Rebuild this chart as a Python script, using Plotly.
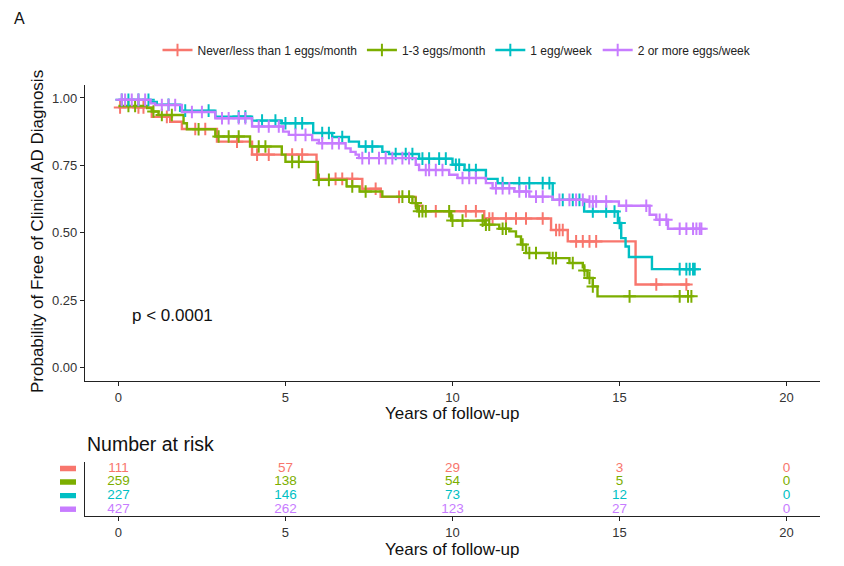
import numpy as np
import plotly.graph_objects as go

W, H = 844, 566

groups = ["Never/less than 1 eggs/month", "1-3 eggs/month", "1 egg/week", "2 or more eggs/week"]
colors = ["#F8766D", "#7CAE00", "#00BFC4", "#C77CFF"]

# Kaplan-Meier step data (time of drop, survival after drop) and last follow-up time
red_t = [0, 1.0, 1.55, 1.9, 2.95, 4.0, 5.93, 7.3, 7.85, 8.9, 9.1, 10.95, 12.95, 13.45, 15.48]
red_s = [0.965, 0.93, 0.912, 0.885, 0.838, 0.79, 0.70, 0.663, 0.633, 0.60, 0.58, 0.553, 0.51, 0.468, 0.308]
red_end = 17.1
red_cens = [0.05, 0.6, 0.75, 1.45, 2.3, 2.6, 3.55, 4.15, 4.5, 5.2, 5.5, 6.5, 6.7, 7.0, 7.7, 8.4, 9.5,
            10.4, 10.7, 11.1, 11.2, 11.6, 11.9, 12.2, 12.7, 13.1, 13.2, 13.3, 13.7, 13.9, 14.1, 14.3, 16.1, 17.0]

green_t = [0, 0.86, 1.0, 1.2, 1.95, 2.05, 2.9, 3.94, 4.89, 5.0, 5.97, 6.83, 7.22, 7.9, 8.8, 8.95, 9.96,
           10.96, 11.4, 11.7, 11.9, 12.05, 12.2, 12.9, 13.5, 13.9, 13.94, 14.04, 14.2, 14.34]
green_s = [0.97, 0.963, 0.95, 0.937, 0.906, 0.884, 0.857, 0.82, 0.79, 0.763, 0.696, 0.672, 0.653, 0.634,
           0.61, 0.58, 0.545, 0.53, 0.515, 0.505, 0.486, 0.456, 0.425, 0.406, 0.388, 0.372, 0.36, 0.332, 0.301, 0.264]
green_end = 17.15
green_cens = [0.3, 0.5, 1.05, 1.3, 1.6, 2.4, 3.0, 3.3, 3.6, 4.2, 4.4, 5.2, 5.4, 6.0, 6.3, 7.0, 7.4, 8.5, 8.7,
              8.9, 9.0, 9.1, 9.2, 9.9, 10.0, 10.3, 10.9, 11.0, 11.1, 11.5, 11.6, 12.1, 12.3, 12.5, 13.0, 13.1,
              13.6, 13.95, 14.1, 14.2, 15.3, 16.8, 17.05, 17.15]

cyan_t = [0, 0.96, 1.15, 1.85, 2.9, 4.0, 4.89, 5.83, 6.4, 6.9, 7.2, 7.9, 8.1, 9.0, 10.0, 10.36, 11.0,
          11.35, 13.0, 13.94, 14.95, 15.05, 15.18, 15.28, 15.97]
cyan_s = [0.993, 0.985, 0.975, 0.953, 0.931, 0.916, 0.906, 0.87, 0.855, 0.838, 0.82, 0.80, 0.792, 0.775,
          0.752, 0.733, 0.70, 0.684, 0.622, 0.579, 0.536, 0.48, 0.449, 0.41, 0.365]
cyan_end = 17.25
cyan_cens = [0.1, 0.3, 0.6, 0.9, 1.5, 2.0, 2.7, 3.6, 3.8, 4.3, 4.7, 5.0, 5.3, 5.5, 6.1, 6.3, 6.7, 7.4, 7.6,
             8.3, 8.6, 8.8, 9.1, 9.3, 9.6, 9.8, 10.1, 10.2, 10.5, 10.7, 11.5, 12.0, 12.3, 12.7, 12.9, 13.3,
             13.6, 13.8, 14.2, 14.6, 14.85, 15.0, 16.8, 17.0, 17.1, 17.2, 17.25]

purple_t = [0, 0.96, 1.1, 1.9, 2.9, 4.0, 4.93, 5.1, 5.8, 6.0, 6.8, 6.95, 7.1, 7.2, 8.9, 9.0, 9.9, 10.15,
            11.0, 11.2, 11.85, 12.3, 13.0, 14.0, 14.98, 15.9, 16.1, 16.45]
purple_s = [0.993, 0.98, 0.974, 0.948, 0.925, 0.894, 0.875, 0.863, 0.844, 0.832, 0.813, 0.80, 0.79, 0.777,
            0.752, 0.733, 0.715, 0.703, 0.684, 0.665, 0.653, 0.634, 0.622, 0.616, 0.60, 0.567, 0.548, 0.515]
purple_end = 17.45
purple_cens = [0.1, 0.2, 0.4, 0.6, 0.8, 1.3, 1.5, 1.7, 2.2, 2.5, 3.1, 3.3, 3.6, 3.8, 4.2, 4.5, 4.8, 5.3,
               5.6, 6.1, 6.4, 6.6, 7.3, 7.5, 7.8, 8.0, 8.2, 8.5, 8.7, 9.2, 9.3, 9.5, 9.7, 10.3, 10.5, 10.7,
               11.3, 11.5, 11.7, 12.0, 12.2, 12.5, 12.7, 13.2, 13.5, 13.7, 13.9, 14.1, 14.2, 14.3, 14.6,
               15.2, 15.8, 16.2, 16.4, 16.8, 17.0, 17.2, 17.3, 17.4, 17.45]

risk_times = [0, 5, 10, 15, 20]
risk_red = [111, 57, 29, 3, 0]
risk_green = [259, 138, 54, 5, 0]
risk_cyan = [227, 146, 73, 12, 0]
risk_purple = [427, 262, 123, 27, 0]

series = [
    (red_t, red_s, red_end, red_cens, risk_red),
    (green_t, green_s, green_end, green_cens, risk_green),
    (cyan_t, cyan_s, cyan_end, cyan_cens, risk_cyan),
    (purple_t, purple_s, purple_end, purple_cens, risk_purple),
]

FONT = "Liberation Sans, Arial, sans-serif"

def step_val(ts, ss, t):
    i = int(np.searchsorted(np.array(ts), t, side="right")) - 1
    return ss[max(i, 0)]

fig = go.Figure()
n = len(groups)
for k, (ts, ss, tend, cens, risk) in enumerate(series):
    col = colors[k]
    fig.add_trace(go.Scatter(
        x=list(ts) + [tend], y=list(ss) + [ss[-1]], mode="lines",
        line=dict(color=col, width=2.4, shape="hv"), showlegend=False, hoverinfo="skip",
        xaxis="x", yaxis="y"))
    fig.add_trace(go.Scatter(
        x=cens, y=[step_val(ts, ss, c) for c in cens], mode="markers",
        marker=dict(symbol="cross-thin", size=9, line=dict(color=col, width=2), color=col),
        showlegend=False, hoverinfo="skip", xaxis="x", yaxis="y"))
    # legend entry
    fig.add_trace(go.Scatter(
        x=[None], y=[None], mode="lines+markers", name=groups[k],
        line=dict(color=col, width=2.4),
        marker=dict(symbol="cross-thin", size=9, line=dict(color=col, width=2), color=col),
        xaxis="x", yaxis="y"))
    # risk table
    row = n - k
    fig.add_trace(go.Scatter(
        x=risk_times, y=[row] * len(risk_times), mode="text",
        text=[str(v) for v in risk], textfont=dict(color=col, size=13.5, family=FONT),
        textposition="middle center", showlegend=False, hoverinfo="skip",
        xaxis="x2", yaxis="y2"))

xdom = [85 / W, 820 / W]
axis_common = dict(showline=True, linecolor="#222", linewidth=1.3, ticks="outside", ticklen=4,
                   tickcolor="#222", tickwidth=1.1, showgrid=False, zeroline=False,
                   tickfont=dict(size=13, color="#333", family=FONT))

fig.update_layout(
    width=W, height=H, margin=dict(l=0, r=0, t=0, b=0),
    paper_bgcolor="white", plot_bgcolor="white",
    font=dict(family=FONT, color="#111"),
    xaxis=dict(domain=xdom, range=[-1, 21], tickvals=[0, 5, 10, 15, 20], anchor="y", **axis_common),
    yaxis=dict(domain=[1 - 381 / H, 1 - 84.5 / H], range=[-0.05, 1.05],
               tickvals=[0, 0.25, 0.5, 0.75, 1.0], ticktext=["0.00", "0.25", "0.50", "0.75", "1.00"],
               anchor="x", **axis_common),
    xaxis2=dict(domain=xdom, range=[-1, 21], tickvals=[0, 5, 10, 15, 20], anchor="y2", **axis_common),
    yaxis2=dict(domain=[1 - 516 / H, 1 - 461.7 / H], range=[0.5, 4.5], showticklabels=False,
                anchor="x2", showline=True, linecolor="#222", linewidth=1.3, ticks="",
                showgrid=False, zeroline=False),
    legend=dict(orientation="h", x=457 / W, y=1 - 50 / H, xanchor="center", yanchor="middle",
                font=dict(size=12, color="#222", family=FONT), itemwidth=30, tracegroupgap=0,
                bgcolor="rgba(0,0,0,0)"),
)

ann = [
    dict(text="A", x=12 / W, y=1 - 18 / H, xanchor="left", yanchor="middle", font=dict(size=16)),
    dict(text="Years of follow-up", x=(85 + 820) / 2 / W, y=1 - 413 / H, xanchor="center",
         yanchor="middle", font=dict(size=17)),
    dict(text="Years of follow-up", x=(85 + 820) / 2 / W, y=1 - 549 / H, xanchor="center",
         yanchor="middle", font=dict(size=17)),
    dict(text="Probability of Free of Clinical AD Diagnosis", x=37 / W, y=1 - 232 / H, textangle=-90,
         xanchor="center", yanchor="middle", font=dict(size=17)),
    dict(text="Number at risk", x=85 / W, y=1 - 444 / H, xanchor="left", yanchor="middle",
         font=dict(size=19.5)),
]
for a in ann:
    a.update(xref="paper", yref="paper", showarrow=False)
fig.update_layout(annotations=ann)
fig.add_annotation(text="p < 0.0001", x=0.35, y=0.193, xref="x", yref="y", xanchor="left",
                   yanchor="middle", showarrow=False, font=dict(size=17, family=FONT))

shapes = []
for k in range(n):
    row = n - k
    shapes.append(dict(type="rect", xref="paper", yref="y2", x0=60 / W, x1=76 / W,
                       y0=row - 0.2, y1=row + 0.2, fillcolor=colors[k], line=dict(width=0)))
fig.update_layout(shapes=shapes)

fig.write_html("out.html")
